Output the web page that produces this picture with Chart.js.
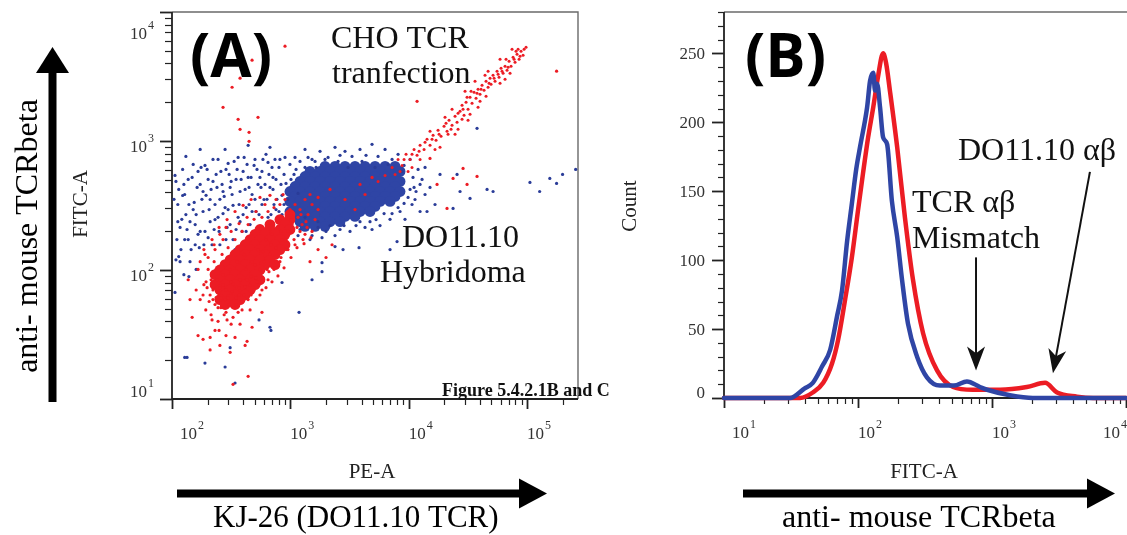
<!DOCTYPE html>
<html>
<head>
<meta charset="utf-8">
<script src="https://cdn.jsdelivr.net/npm/chart.js@4.4.0/dist/chart.umd.min.js"></script>
<style>
html, body { margin: 0; padding: 0; background: #fff; }
body { width: 1127px; height: 535px; position: relative; overflow: hidden; }
canvas { position: absolute; top: 0; }
#dotplot { left: 0; }
#histo { left: 600px; }
</style>
</head>
<body>
<canvas id="dotplot" width="640" height="535"></canvas>
<canvas id="histo" width="527" height="535"></canvas>
<script>
// ---- panel A: PE-A vs FITC-A dot plot, [PE-A, FITC-A] pairs ----
const redCore = [
  [993,269],
  [817,246],[993,246],
  [673,225],[902,225],
  [554,206],[673,206],[817,206],[993,206],
  [503,189],[611,189],[742,189],[902,189],
  [457,172],[554,172],[673,172],[817,172],
  [415,157],[503,157],[611,157],[742,157],[902,157],
  [376,144],[457,144],[554,144],[673,144],[817,144],
  [341,132],[415,132],[503,132],[611,132],[742,132],
  [310,120],[376,120],[457,120],[554,120],[673,120],
  [281,110],[341,110],[415,110],[503,110],[611,110],[742,110],
  [254,100],[310,100],[376,100],[457,100],[554,100],
  [231,92],[281,92],[341,92],[415,92],[503,92],
  [254,84],[310,84],[376,84],[457,84],[554,84],
  [231,77],[281,77],[341,77],[415,77],[503,77],
  [254,70],[310,70],[376,70],[457,70],
  [281,64],[341,64],[415,64],
  [254,59],[310,59],[376,59],
  [281,54],[341,54]
];
const redCloud = [
  [173,59],[186,77],[193,49],[202,101],[210,64],[218,41],[227,116],[231,54],[240,84],[250,34],
  [259,61],[265,132],[276,45],[286,70],[298,149],[304,54],[316,38],[328,78],[341,172],[348,61],
  [362,47],[376,84],[391,199],[407,64],[423,101],[440,225],[457,76],[475,116],[494,247],[513,87],
  [533,144],[554,101],[576,256],[599,116],[623,172],[648,284],[673,132],[700,189],[728,305],[757,149],
  [786,214],[817,322],[851,172],[902,352],[956,199],[993,294],[1034,225],[1096,322],[1162,256],[1208,294],
  [1256,225],[1331,352],[1412,269],[1526,322],[1618,246],[1716,365],[1281,172],[160,70],[148,43],[166,31],
  [183,29],[210,30],[286,31],[341,30],[376,38],[457,49],[513,59],[576,70],[648,84],[728,101],
  [817,116],[920,144],[1096,157],[1331,189],[1526,199],[190,132],[166,101],[227,157],[254,189],[286,214],
  [142,59],[137,84],[415,26],[254,26],[310,23],[475,36],[576,47],[210,24],[231,34],[431,28],
  [328,13],[440,15],[1716,144],[2003,125],[2252,157],[1467,116],
  [198,73],[214,84],[222,59],[236,101],[245,51],[254,73],[270,92],[281,59],[292,41],[310,101],
  [322,68],[335,51],[355,116],[369,73],[384,57],[407,132],[431,84],[466,64],[503,110],[544,77],
  [587,139],[635,101],[686,157],[757,116],[834,199],[920,172],[1013,246],[1139,214],[1231,269],[1358,237],
  [183,64],[194,81],[206,57],[214,45],[222,70],[236,61],[245,40],[259,51],[270,77],[286,47],
  [298,61],[316,81],[328,43],[348,54],[369,64],[391,49],[415,74],[440,59],[466,89],[494,70],
  [523,81],[554,64],[587,87],[623,73],[660,97],[700,81],[742,104],[786,90],[834,125],[885,104],
  [956,144],[1013,125],[1075,172],[1139,149],[1208,199],[1306,160],[1384,214],[1496,178],
  [173,116],[186,144],[202,125],[218,172],[231,144],[250,214],[270,172],[292,246],[316,199],[341,284],
  [369,229],[399,317],[431,256],[466,352],[513,284],[554,365],[611,322],[673,379],[757,352],[868,385],
  [2166,421],[2899,352],[3882,461],[4905,522],[1716,294],[1467,385],[3522,294],[4280,385],
  [902,5435],[475,4235],[376,3067],[322,2611],[270,1825],[362,1473],[533,1527],[376,1232],[448,1168],[448,994],
  [178000,3475],[11780,2032],
  [28830,613],[23730,513],[31160,461],[15160,733],[17380,461],[21110,300],[37850,531]
];
const redStreak = [
  [7240,624],[8140,720],[8795,647],[9507,788],[10280,720],[11110,861],[11780,774],[12490,926],[13500,861],[14300,1030],
  [15160,926],[16090,1107],[17050,1013],[17720,1210],[18790,1087],[19920,1300],[21110,1189],[21950,1448],[23270,1323],[24670,1554],
  [25650,1396],[27190,1699],[28270,1893],[29400,1583],[30560,1996],[31780,1761],[33030,2184],[34340,1961],[35710,2387],[37120,2145],
  [38610,2520],[40120,2303],[41720,2708],[43390,2476],[45100,2906],[46910,2611],[48750,3067],[49720,2755],[51700,3237],[53730,2906],
  [55870,3475],[58100,3122],[60400,3668],[62810,3354],[65270,3802],[67880,3541],[70600,4158],[73380,3800],[76320,4466],[79310,4083],
  [82470,4712],[85770,4310],[89150,4970],[92720,4630],[84120,5153],[71950,3354],[59220,2805],[40120,2032],[26160,1232],[18420,893],
  [12490,720],[36400,2906],[44220,3237],[29970,2429],[23270,1761],[20300,1527],[15160,1189],[59220,4310],[74820,5153],[98260,5340],
  [45100,2222],[33030,1611],[24670,1127],[9888,581],[6318,541],[5514,486],
  [8460,581],[9147,720],[10680,788],[12250,831],[13760,976],[15770,1030],[18080,1127],[20700,1371],[22820,1232],[26160,1640],
  [28830,1761],[31160,2184],[33680,2429],[37850,2345],[40920,2520],[47830,2805],[52720,3067],[56990,3295],[61580,3475],[66570,4310],
  [69240,3734],[77810,4310],[80880,4970],[87420,4545],[94540,5153],[28270,1473],[21530,1127],[16710,861],[10680,624],[7675,551],
  [46910,3475],[65270,3013],[38610,1825],[31780,1448]
];
const blueCore = [
  [1964,635],[2387,635],[2899,635],[3522,635],[4280,635],[5200,635],[6318,635],[7675,635],
  [1467,581],[1782,581],[2166,581],[2631,581],[3197,581],[3884,581],[4718,581],[5732,581],[6965,581],[8460,581],
  [1331,531],[1618,531],[1964,531],[2387,531],[2899,531],[3522,531],[4280,531],[5200,531],[6318,531],[7675,531],
  [1208,486],[1467,486],[1782,486],[2166,486],[2631,486],[3197,486],[3884,486],[4718,486],[5732,486],[6965,486],[8460,486],
  [1096,444],[1331,444],[1618,444],[1964,444],[2387,444],[2899,444],[3522,444],[4280,444],[5200,444],[6318,444],[7675,444],
  [993,406],[1208,406],[1467,406],[1782,406],[2166,406],[2631,406],[3197,406],[3884,406],[4718,406],[5732,406],[6965,406],[8460,406],
  [1096,372],[1331,372],[1618,372],[1964,372],[2387,372],[2899,372],[3522,372],[4280,372],[5200,372],[6318,372],[7675,372],
  [993,340],[1208,340],[1467,340],[1782,340],[2166,340],[2631,340],[3197,340],[3884,340],[4718,340],[5732,340],[6965,340],
  [1096,311],[1331,311],[1618,311],[1964,311],[2387,311],[2899,311],[3522,311],[4280,311],[5200,311],
  [993,284],[1208,284],[1467,284],[1782,284],[2166,284],[2631,284],[3197,284],[3884,284],[4718,284],
  [1096,260],[1331,260],[1618,260],[1964,260],[2387,260],[2899,260],[3522,260],
  [1208,237],[1467,237],[1782,237],[2166,237],[2631,237],
  [1331,218],[1618,218],[1964,218]
];
const blueCloud = [
  [108,486],[112,322],[117,214],[119,144],[123,602],[128,385],[131,269],[137,172],[142,116],[148,522],
  [154,334],[157,225],[163,437],[170,149],[176,624],[183,284],[190,199],[194,379],[202,504],[210,237],
  [218,157],[222,720],[231,322],[240,437],[250,199],[259,581],[270,274],[276,372],[286,172],[298,670],
  [310,225],[316,486],[328,317],[341,144],[355,602],[362,256],[376,406],[391,199],[407,746],[423,305],
  [440,522],[457,225],[475,385],[494,647],[513,284],[533,461],[554,206],[576,581],[599,352],[623,788],
  [648,256],[673,437],[700,624],[728,322],[757,504],[786,214],[817,720],[851,379],[885,551],[802,284],
  [131,760],[173,861],[281,861],[440,926],[673,893],[108,120],[126,92],[160,101],
  [104,353],[110,172],[114,421],[121,247],[126,461],[134,206],[139,322],[145,144],[151,658],[160,269],
  [166,189],[173,461],[179,353],[186,157],[198,602],[206,294],[214,421],[227,206],[236,551],[245,256],
  [254,353],[265,461],[281,305],[292,214],[304,551],[322,385],[335,694],[348,206],[369,322],[384,504],
  [399,269],[415,421],[431,658],[448,322],[466,522],[485,189],[503,353],[523,602],[544,269],[565,437],
  [587,720],[611,206],[635,353],[660,551],[686,269],[714,421],[742,720],[771,353],[834,461],[868,237],
  [106,541],[112,237],[117,116],[123,378],[128,172],[137,504],[142,237],[151,294],[157,157],[166,581],
  [173,199],[183,406],[190,647],[202,178],[210,352],[222,486],[231,246],[245,720],[254,157],[270,406],
  [286,602],[298,294],[310,437],[328,172],[348,504],[362,746],[376,237],[399,581],[423,199],[448,437],
  [475,284],[503,720],[523,206],[554,522],[576,322],[611,461],[648,682],[673,214],[714,522],[757,294],
  [802,624],[851,269],[902,746],[956,352],[1013,504],[1118,602],[1208,694],[1412,746],[1650,624],[1964,720],
  [2531,694],[3075,624],[4037,694],[5200,624],[6700,658],[8795,581],[10280,421],[9147,328],[7240,274],[5302,246],
  [3882,237],[2845,221],[2166,221],[1716,237],[1331,256],[1054,284],[1162,392],[11320,352],[12490,461],
  [993,658],[1096,746],[1331,861],[1526,720],[1783,831],[2387,893],[2899,831],[3882,861],[4905,942],[6318,861],
  [8140,788],[10280,720],[12020,602],[12980,504],[11550,406],[13760,385],[10680,322],[12490,284],[8460,284],[9320,247],
  [6962,247],[5730,221],[4280,214],[3196,199],[2387,185],[1853,178],[1467,172],[1162,185],[1716,214],[993,199],
  [13760,624],[15160,437],[16710,322],[18420,551],
  [1331,624],[1618,694],[2084,746],[2631,774],[3323,760],[4364,774],[5514,760],[7240,720],[9147,647],[10890,522],
  [11110,437],[9888,365],[8140,305],[6199,274],[4716,237],[3592,221],[2631,206],[2003,199],[1526,185],[1208,206],
  [956,237],[885,322],[920,469],[1075,551],
  [25650,551],[27190,406],[33030,359],[45990,421],[51700,406],[106000,477],[128000,406],[156000,513],[200000,551],[178000,469],
  [37850,1254],[23730,300],[7980,166],[6962,144],[14300,284],[2790,144],[134,21],[190,19],[281,17.7],[544,41],
  [673,36],[1185,47],[851,80],[1526,84],[1853,97],[2387,152],[3808,149],[1853,114],[4905,206],[114,127],
  [106,67],[139,89],[341,13.3],[310,25],[128,21],[686,34],[258000,602]
];
const dotXTicks = [100, 1000, 10000, 100000];
const dotYTicks = [10, 100, 1000, 10000];

// ---- panel B: FITC-A histograms ----
const blueHistX = [10, 31, 40, 46, 54, 62, 70, 76, 83, 90, 97, 104, 117, 123, 130, 134, 139, 146, 154, 165, 179, 196, 213, 236, 276, 327, 409, 520, 650, 813, 920, 1360, 2020, 10000];
const blueHistY = [0, 0, 7, 11, 23, 35, 60, 78, 114, 141, 166, 183, 211, 230, 236, 223, 228, 211, 189, 184, 143, 117, 86, 54, 30, 15, 9, 9, 12, 8, 6, 2, 0, 0];
const redHistX = [10, 37, 46, 55, 64, 71, 80, 90, 100, 109, 119, 130, 141, 154, 162, 173, 196, 224, 257, 306, 389, 512, 720, 1150, 1820, 2490, 3060, 4310, 5680, 10000];
const redHistY = [0, 0, 4, 11, 25, 42, 71, 102, 136, 163, 189, 211, 233, 250, 243, 223, 182, 131, 86, 47, 20, 8, 6, 6, 8, 11, 4, 1, 0, 0];
const histXTicks = [10, 100, 1000, 10000];
const countTicks = [0, 50, 100, 150, 200, 250];

const RED = '#ec1c24';
const BLUE = '#2f45a5';
const BLUE_DOT = '#2a3c98';
const SERIF = '"Liberation Serif", "Times New Roman", serif';
const INK = '#222';

function setTicks(list) {
  return s => { s.ticks = list.map(v => ({ value: v })); };
}

function logTicks(ctx, s, pos, major, minor) {
  const lo = Math.floor(Math.log10(s.min)), hi = Math.ceil(Math.log10(s.max));
  ctx.strokeStyle = INK;
  for (let d = lo; d <= hi; d++) {
    for (let k = 1; k < 10; k++) {
      const v = k * Math.pow(10, d);
      if (v < s.min * 0.999 || v > s.max * 1.001) continue;
      const p = Math.round(s.getPixelForValue(v)) + 0.5;
      ctx.lineWidth = k === 1 ? 1.8 : 1.2;
      ctx.beginPath();
      if (s.isHorizontal()) { ctx.moveTo(p, pos); ctx.lineTo(p, pos + (k === 1 ? major : minor)); }
      else { ctx.moveTo(pos, p); ctx.lineTo(pos - (k === 1 ? major : minor), p); }
      ctx.stroke();
    }
  }
}

function powWidth(ctx, e) {
  ctx.font = '17px ' + SERIF;
  const wb = ctx.measureText('10').width;
  ctx.font = '12px ' + SERIF;
  return wb + 1 + ctx.measureText(String(e)).width;
}

function powLabel(ctx, e, x, y, align) {
  const w = powWidth(ctx, e);
  const x0 = align === 'right' ? x - w : x;
  ctx.fillStyle = '#333';
  ctx.textAlign = 'left';
  ctx.textBaseline = 'alphabetic';
  ctx.font = '17px ' + SERIF;
  const wb = ctx.measureText('10').width;
  ctx.fillText('10', x0, y);
  ctx.font = '12px ' + SERIF;
  ctx.fillText(String(e), x0 + wb + 1, y - 10);
}

function vText(ctx, txt, x, y, font) {
  ctx.save();
  ctx.translate(x, y);
  ctx.rotate(-Math.PI / 2);
  ctx.font = font;
  ctx.textAlign = 'center';
  ctx.textBaseline = 'alphabetic';
  ctx.fillText(txt, 0, 0);
  ctx.restore();
}

function text(ctx, txt, x, y, font, align) {
  ctx.font = font;
  ctx.textAlign = align || 'left';
  ctx.textBaseline = 'alphabetic';
  ctx.fillText(txt, x, y);
}

function bigArrowRight(ctx, x1, x2, y) {
  ctx.fillStyle = '#000';
  ctx.fillRect(x1, y - 4, x2 - 27 - x1, 8);
  ctx.beginPath();
  ctx.moveTo(x2 - 28, y - 15); ctx.lineTo(x2, y); ctx.lineTo(x2 - 28, y + 15);
  ctx.closePath(); ctx.fill();
}

function bigArrowUp(ctx, x, y1, y2) {
  ctx.fillStyle = '#000';
  ctx.fillRect(x - 4, y2 + 25, 8, y1 - y2 - 25);
  ctx.beginPath();
  ctx.moveTo(x - 16.5, y2 + 26); ctx.lineTo(x, y2); ctx.lineTo(x + 16.5, y2 + 26);
  ctx.closePath(); ctx.fill();
}

function pointer(ctx, x1, y1, x2, y2) {
  const a = Math.atan2(y2 - y1, x2 - x1), c = Math.cos(a), s = Math.sin(a);
  const len = 24, half = 9;
  ctx.strokeStyle = '#111';
  ctx.fillStyle = '#111';
  ctx.lineWidth = 2;
  ctx.beginPath(); ctx.moveTo(x1, y1); ctx.lineTo(x2 - c * len * 0.7, y2 - s * len * 0.7); ctx.stroke();
  ctx.beginPath();
  ctx.moveTo(x2, y2);
  ctx.lineTo(x2 - c * len - s * half, y2 - s * len + c * half);
  ctx.lineTo(x2 - c * len * 0.72, y2 - s * len * 0.72);
  ctx.lineTo(x2 - c * len + s * half, y2 - s * len - c * half);
  ctx.closePath(); ctx.fill();
}

const decoA = {
  id: 'decoA',
  beforeDatasetsDraw(chart) {
    const { ctx, chartArea: a, scales: { x, y } } = chart;
    ctx.save();
    ctx.strokeStyle = '#6a6a6a'; ctx.lineWidth = 1.4;
    ctx.beginPath(); ctx.moveTo(a.left, a.top); ctx.lineTo(a.right, a.top); ctx.lineTo(a.right, a.bottom); ctx.stroke();
    ctx.strokeStyle = INK; ctx.lineWidth = 1.8;
    ctx.beginPath(); ctx.moveTo(a.left, a.top); ctx.lineTo(a.left, a.bottom); ctx.lineTo(a.right, a.bottom); ctx.stroke();
    logTicks(ctx, x, a.bottom, 10, 6);
    logTicks(ctx, y, a.left, 12, 7);
    ctx.restore();
  },
  afterDraw(chart) {
    const { ctx, chartArea: a, scales: { x, y } } = chart;
    ctx.save();
    x.ticks.forEach(t => {
      const e = Math.round(Math.log10(t.value));
      let px = x.getPixelForValue(t.value);
      if (px - a.left < 2) px += 8;
      const w = powWidth(ctx, e);
      if (px + w > chart.width) px = chart.width - w;
      powLabel(ctx, e, px, a.bottom + 40);
    });
    y.ticks.forEach(t => {
      const e = Math.round(Math.log10(t.value));
      const py = y.getPixelForValue(t.value);
      const base = Math.min(Math.max(py + 11, a.top + 27), a.bottom - 2);
      powLabel(ctx, e, a.left - 18, base, 'right');
    });
    ctx.fillStyle = INK;
    text(ctx, 'PE-A', (a.left + a.right) / 2 - 3, 478, '21px ' + SERIF, 'center');
    vText(ctx, 'FITC-A', 87, 204, '21px ' + SERIF);
    ctx.fillStyle = '#111';
    text(ctx, 'CHO TCR', 331, 48, '32px ' + SERIF);
    text(ctx, 'tranfection', 332, 83, '32px ' + SERIF);
    text(ctx, 'DO11.10', 402, 247, '32px ' + SERIF);
    text(ctx, 'Hybridoma', 380, 282, '32px ' + SERIF);
    text(ctx, 'Figure 5.4.2.1B and C', 442, 396, 'bold 18px ' + SERIF);
    ctx.fillStyle = '#000';
    text(ctx, '(A)', 190, 77, 'bold 60px "Open Sans", sans-serif');
    text(ctx, 'KJ-26 (DO11.10 TCR)', 213, 527, '31px ' + SERIF);
    vText(ctx, 'anti- mouse TCRbeta', 37, 236, '32px ' + SERIF);
    bigArrowRight(ctx, 177, 547, 493.5);
    bigArrowUp(ctx, 52.5, 402, 47);
    ctx.restore();
  }
};

const decoB = {
  id: 'decoB',
  beforeDatasetsDraw(chart) {
    const { ctx, chartArea: a, scales: { x, y } } = chart;
    ctx.save();
    ctx.strokeStyle = '#6a6a6a'; ctx.lineWidth = 1.4;
    ctx.beginPath(); ctx.moveTo(a.left, a.top); ctx.lineTo(chart.width, a.top); ctx.stroke();
    ctx.strokeStyle = INK; ctx.lineWidth = 1.8;
    ctx.beginPath(); ctx.moveTo(a.left, a.top); ctx.lineTo(a.left, a.bottom); ctx.lineTo(chart.width, a.bottom); ctx.stroke();
    logTicks(ctx, x, a.bottom, 10, 6);
    for (let v = 0; v <= y.max; v += 10) {
      const p = Math.round(y.getPixelForValue(v)) + 0.5;
      const major = v % 50 === 0;
      ctx.lineWidth = major ? 1.8 : 1.2;
      ctx.beginPath(); ctx.moveTo(a.left, p); ctx.lineTo(a.left - (major ? 12 : 6), p); ctx.stroke();
    }
    ctx.restore();
  },
  afterDraw(chart) {
    const { ctx, chartArea: a, scales: { x, y } } = chart;
    ctx.save();
    x.ticks.forEach(t => {
      const e = Math.round(Math.log10(t.value));
      let px = x.getPixelForValue(t.value);
      if (px - a.left < 2) px += 8;
      const w = powWidth(ctx, e);
      if (px + w > chart.width) px = chart.width - w;
      powLabel(ctx, e, px, a.bottom + 40);
    });
    ctx.fillStyle = '#333';
    y.ticks.forEach(t => {
      const py = y.getPixelForValue(t.value);
      text(ctx, String(t.value), a.left - 19, Math.min(py + 6, a.bottom), '17px ' + SERIF, 'right');
    });
    ctx.fillStyle = INK;
    text(ctx, 'FITC-A', 324, 478, '21px ' + SERIF, 'center');
    vText(ctx, 'Count', 36, 206, '21px ' + SERIF);
    ctx.fillStyle = '#111';
    text(ctx, 'DO11.10 \u03b1\u03b2', 358, 160, '32px ' + SERIF);
    text(ctx, 'TCR \u03b1\u03b2', 312, 212, '32px ' + SERIF);
    text(ctx, 'Mismatch', 312, 248, '32px ' + SERIF);
    pointer(ctx, x.getPixelForValue(760), y.getPixelForValue(102), x.getPixelForValue(760), y.getPixelForValue(20));
    pointer(ctx, x.getPixelForValue(5380), y.getPixelForValue(164), x.getPixelForValue(2850), y.getPixelForValue(18));
    ctx.fillStyle = '#000';
    text(ctx, '(B)', 145, 77, 'bold 60px "Open Sans", sans-serif');
    text(ctx, 'anti- mouse TCRbeta', 182, 527, '32px ' + SERIF);
    bigArrowRight(ctx, 143, 515, 493.5);
    ctx.restore();
  }
};

const dot = (pts, color, r) => ({
  data: pts.map(([x, y]) => ({ x, y })),
  backgroundColor: color,
  pointRadius: r,
  pointHoverRadius: r,
  pointBorderWidth: 0,
  borderWidth: 0
});

new Chart(document.getElementById('dotplot'), {
  type: 'scatter',
  data: {
    datasets: [
      dot(redCloud, RED, 1.6),
      dot(redStreak, RED, 1.5),
      dot(redCore, RED, 5.4),
      dot(blueCloud, BLUE_DOT, 1.6),
      dot(blueCore, BLUE, 5.4)
    ]
  },
  options: {
    responsive: false,
    animation: false,
    events: [],
    layout: { padding: { left: 0, top: 12, right: 62, bottom: 0 } },
    plugins: { legend: { display: false }, tooltip: { enabled: false } },
    scales: {
      x: {
        type: 'logarithmic', min: 100, max: 270000,
        grid: { display: false }, border: { display: false }, ticks: { display: false },
        afterBuildTicks: setTicks(dotXTicks),
        afterFit: s => { s.height = 136; }
      },
      y: {
        type: 'logarithmic', min: 10, max: 10000,
        grid: { display: false }, border: { display: false }, ticks: { display: false },
        afterBuildTicks: setTicks(dotYTicks),
        afterFit: s => { s.width = 172; }
      }
    }
  },
  plugins: [decoA]
});

const hist = (xs, ys, color) => ({
  data: xs.map((x, i) => ({ x, y: ys[i] })),
  borderColor: color,
  borderWidth: 4.5,
  pointRadius: 0,
  cubicInterpolationMode: 'monotone',
  borderJoinStyle: 'round',
  borderCapStyle: 'round',
  clip: false,
  fill: false
});

new Chart(document.getElementById('histo'), {
  type: 'line',
  data: {
    datasets: [
      hist(blueHistX, blueHistY, BLUE),
      hist(redHistX, redHistY, RED)
    ]
  },
  options: {
    responsive: false,
    animation: false,
    events: [],
    layout: { padding: { left: 0, top: 12, right: 1, bottom: 0 } },
    plugins: { legend: { display: false }, tooltip: { enabled: false } },
    scales: {
      x: {
        type: 'logarithmic', min: 10, max: 10000,
        grid: { display: false }, border: { display: false }, ticks: { display: false },
        afterBuildTicks: setTicks(histXTicks),
        afterFit: s => { s.height = 137; }
      },
      y: {
        type: 'linear', min: 0, max: 280,
        grid: { display: false }, border: { display: false }, ticks: { display: false },
        afterBuildTicks: setTicks(countTicks),
        afterFit: s => { s.width = 124; }
      }
    }
  },
  plugins: [decoB]
});
</script>
</body>
</html>
